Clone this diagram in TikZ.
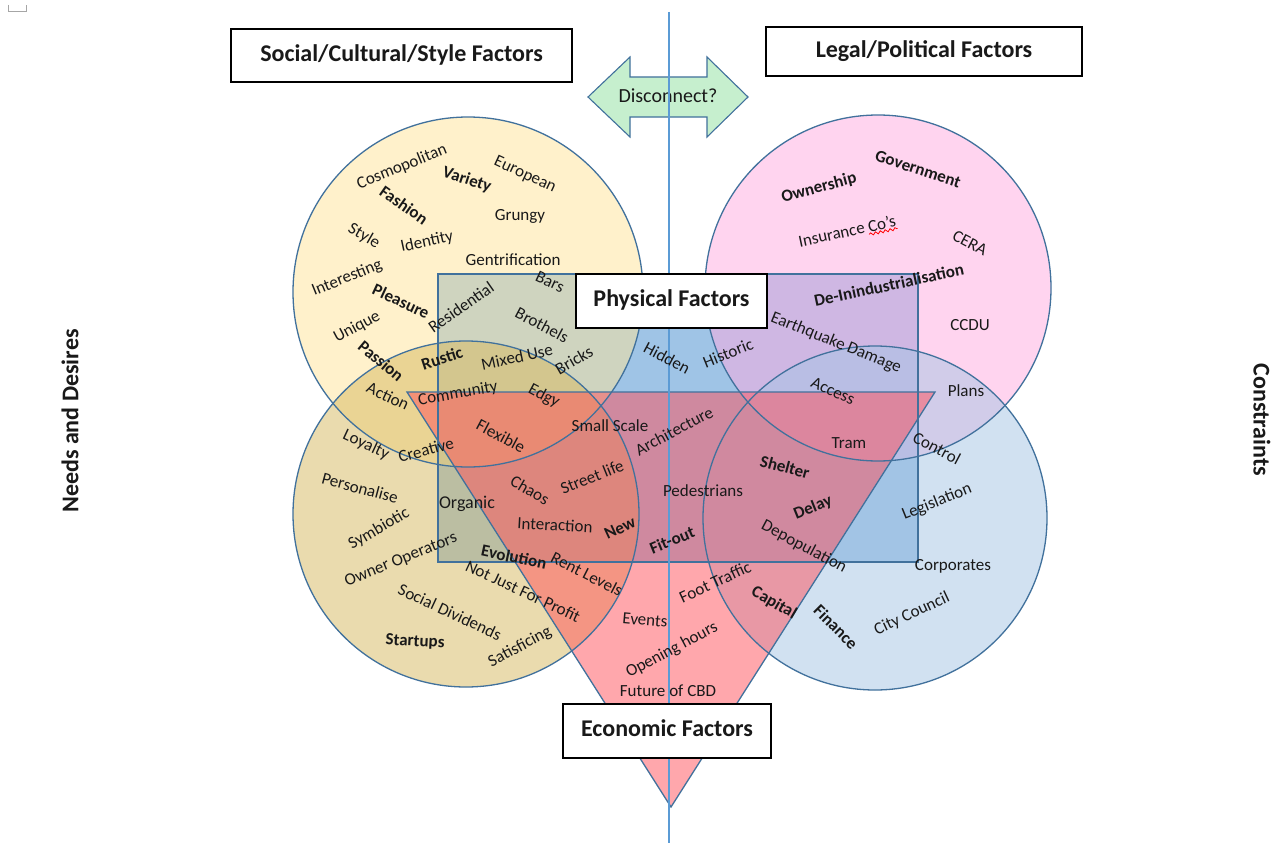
\documentclass[tikz,border=0pt]{standalone}
\usepackage{fontspec}
\setmainfont{Carlito}
\usetikzlibrary{decorations.pathmorphing}
\definecolor{edge}{RGB}{65,113,156}
\definecolor{vline}{RGB}{91,155,213}
\definecolor{cTL}{RGB}{255,229,153}
\definecolor{cBL}{RGB}{215,185,95}
\definecolor{cTR}{RGB}{255,171,225}
\definecolor{cBR}{RGB}{165,197,229}
\definecolor{cRect}{RGB}{91,155,213}
\definecolor{cTri}{RGB}{255,80,90}
\definecolor{cArrow}{RGB}{198,239,206}
\definecolor{ink}{RGB}{25,25,25}
\begin{document}
\begin{tikzpicture}[x=1pt,y=-1pt,
  w/.style={font=\fontsize{17}{20}\selectfont, text=ink, inner sep=0pt},
  wb/.style={font=\fontsize{17}{20}\selectfont\bfseries, text=ink, inner sep=0pt},
  title/.style={draw=black, line width=1.4pt, fill=white, inner sep=0pt, font=\fontsize{24}{28}\selectfont\bfseries, text=ink},
  side/.style={font=\fontsize{24}{28}\selectfont\bfseries, text=ink, inner sep=0pt},
  shapeline/.style={draw=edge, line width=1.3pt}
]
\useasboundingbox (0,0) rectangle (1285,843);
\fill[white] (0,0) rectangle (1285,843);
% small anchor mark
\draw[gray!70, line width=1pt] (8,5) -- (8,12) -- (26,12) -- (26,5);

% physical rectangle (bottom layer)
\fill[cRect, fill opacity=0.58] (438,274) rectangle (918,562);
% circles
\fill[cTL, fill opacity=0.5] (468,292) circle [radius=175];
\fill[cTR, fill opacity=0.5] (878,288) circle [radius=173];
\fill[cBL, fill opacity=0.5] (466,514) circle [radius=173];
\fill[cBR, fill opacity=0.5] (875,518) circle [radius=172];
% triangle
\fill[cTri, fill opacity=0.5] (407,392) -- (935,392) -- (671,807) -- cycle;
% outlines
\draw[shapeline] (438,274) rectangle (918,562);
\draw[shapeline] (468,292) circle [radius=175];
\draw[shapeline] (878,288) circle [radius=173];
\draw[shapeline] (466,514) circle [radius=173];
\draw[shapeline] (875,518) circle [radius=172];
\draw[shapeline] (407,392) -- (935,392) -- (671,807) -- cycle;

% double arrow
\draw[shapeline, fill=cArrow, line width=1.1pt] (588,97) -- (630,57) -- (630,77) -- (707,77) -- (707,57) -- (748,97) -- (707,137) -- (707,117) -- (630,117) -- (630,137) -- cycle;
\node[font=\fontsize{20}{24}\selectfont, text=ink, inner sep=0pt] (disc) at (668,96) {Disconnect?};

% vertical divider
\coordinate (vtop) at (669,12);
\coordinate (vbot) at (669,843);
\draw[vline, line width=1.8pt] (vtop) -- (vbot);

% titles
\node[title, minimum width=341pt, minimum height=53pt] (social) at (401.5,55.5) {\raisebox{4pt}{Social/Cultural/Style Factors}};
\node[title, minimum width=316pt, minimum height=49pt] (legal) at (924,51.5) {\raisebox{3pt}{Legal/Political Factors}};
\node[title, minimum width=191pt, minimum height=54pt] (physical) at (671.5,301) {\raisebox{5pt}{Physical Factors}};
\node[title, minimum width=208pt, minimum height=54pt] (economic) at (667,731) {\raisebox{5pt}{Economic Factors}};

\node[side, rotate=90] (needs) at (70,421) {Needs and Desires};
\node[side, rotate=-90] (constraints) at (1262,420) {Constraints};

% social words
\node[w, rotate=22] (cosmo) at (402,167) {Cosmopolitan};
\node[wb, rotate=-18] (variety) at (467,180) {Variety};
\node[w, rotate=-25] (european) at (525,175) {European};
\node[wb, rotate=-35] (fashion) at (404,205) {Fashion};
\node[w] (grungy) at (520,216) {Grungy};
\node[w, rotate=-30] (style) at (364,236) {Style};
\node[w, rotate=12] (identity) at (427,242) {Identity};
\node[w] (gentri) at (513,260) {Gentrification};
\node[w, rotate=22] (interesting) at (347,278) {Interesting};
\node[w, rotate=-25] (bars) at (550,282) {Bars};
\node[wb, rotate=-25] (pleasure) at (401,301) {Pleasure};
\node[w, rotate=35] (resid) at (461,307) {Residential};
\node[w, rotate=-28] (brothels) at (542,325) {Brothels};
\node[w, rotate=28] (unique) at (357,327) {Unique};
\node[wb, rotate=-40] (passion) at (381,361) {Passion};
\node[wb, rotate=18] (rustic) at (442,358) {Rustic};
\node[w, rotate=12] (mixed) at (517,357) {Mixed Use};
\node[w, rotate=30] (bricks) at (574,360) {Bricks};
\node[w, rotate=-25] (action) at (388,396) {Action};
\node[w, rotate=10] (community) at (458,394) {Community};
\node[w, rotate=-28] (edgy) at (544,396) {Edgy};
\node[w, rotate=-25] (loyalty) at (366,445) {Loyalty};
\node[w, rotate=15] (creative) at (426,450) {Creative};
\node[w, rotate=-28] (flexible) at (501,436) {Flexible};
\node[w] (smallscale) at (610,426) {Small Scale};
\node[w, rotate=28] (archi) at (674,431) {Architecture};
\node[w, rotate=-15] (personalise) at (360,488) {Personalise};
\node[w, rotate=-30] (chaos) at (530,490) {Chaos};
\node[w, rotate=22] (street) at (592,477) {Street life};
\node[font=\fontsize{18}{21}\selectfont, text=ink, inner sep=0pt] (organic) at (467,504) {Organic};
\node[w, rotate=30] (symbiotic) at (379,529) {Symbiotic};
\node[w] (pedestrians) at (703,491) {Pedestrians};
\node[w, rotate=-3] (interaction) at (555,525) {Interaction};
\node[wb, rotate=25] (new) at (620,528) {New};
\node[wb, rotate=22] (fitout) at (672,540) {Fit-out};
\node[w, rotate=22] (owner) at (401,560) {Owner Operators};
\node[wb, rotate=-12] (evolution) at (514,557) {Evolution};
\node[w, rotate=-27] (rent) at (587,574) {Rent Levels};
\node[w, rotate=-25] (notjust) at (523,591) {Not Just For Profit};
\node[w, rotate=-25] (socialdiv) at (450,612) {Social Dividends};
\node[wb, rotate=-3] (startups) at (415,642) {Startups};
\node[w, rotate=28] (satisficing) at (520,647) {Satisficing};
\node[w, rotate=-28] (hidden) at (667,358) {Hidden};
\node[w, rotate=22] (historic) at (728,353) {Historic};

% legal words
\node[wb, rotate=-18] (government) at (918,169) {Government};
\node[wb, rotate=15] (ownership) at (819,188) {Ownership};
\node[w, rotate=12] (insurance) at (847,231) {Insurance Co's};
\begin{scope}[shift={(847,231)}, rotate=12]
  \draw[red, line width=0.8pt, decorate, decoration={snake, amplitude=1.3pt, segment length=5pt}] (21,8) -- (50,8);
\end{scope}
\node[w, rotate=-28] (cera) at (970,243) {CERA};
\node[wb, rotate=12] (deind) at (889,285) {De-Inindustrialisation};
\node[w] (ccdu) at (970,325) {CCDU};
\node[w, rotate=-22] (quake) at (836,343) {Earthquake Damage};
\node[w, rotate=-25] (access) at (833,391) {Access};
\node[w] (plans) at (966,391) {Plans};
\node[w] (tram) at (849,443) {Tram};
\node[w, rotate=-28] (control) at (937,448) {Control};
\node[wb, rotate=-15] (shelter) at (785,467) {Shelter};
\node[wb, rotate=22] (delay) at (813,508) {Delay};
\node[w, rotate=22] (legislation) at (937,502) {Legislation};
\node[w, rotate=-28] (depop) at (804,547) {Depopulation};
\node[w] (corporates) at (953,566) {Corporates};
\node[w, rotate=25] (foot) at (715,582) {Foot Traffic};
\node[wb, rotate=-30] (capital) at (774,603) {Capital};
\node[wb, rotate=-45] (finance) at (836,627) {Finance};
\node[w, rotate=25] (city) at (912,614) {City Council};
\node[w, rotate=-5] (events) at (645,620) {Events};
\node[w, rotate=28] (opening) at (672,650) {Opening hours};
\node[w] (future) at (668,691) {Future of CBD};
\end{tikzpicture}
\end{document}
